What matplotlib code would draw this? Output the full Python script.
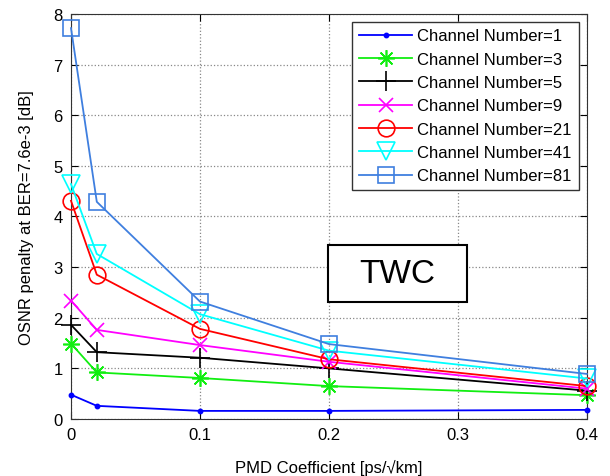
import matplotlib
matplotlib.use("Agg")
import matplotlib.pyplot as plt
from matplotlib.patches import Rectangle

plt.rcParams['font.family'] = ['Liberation Sans', 'DejaVu Sans']

# data
pmd = [0, 0.02, 0.1, 0.2, 0.4]
ch1 = [0.48, 0.26, 0.16, 0.16, 0.18]
ch3 = [1.49, 0.92, 0.81, 0.65, 0.47]
ch5 = [1.86, 1.32, 1.21, 1.0, 0.56]
ch9 = [2.34, 1.76, 1.46, 1.13, 0.6]
ch21 = [4.31, 2.85, 1.78, 1.18, 0.65]
ch41 = [4.64, 3.26, 2.07, 1.35, 0.8]
ch81 = [7.72, 4.29, 2.32, 1.48, 0.89]
labels = ['Channel Number=1', 'Channel Number=3', 'Channel Number=5',
          'Channel Number=9', 'Channel Number=21', 'Channel Number=41',
          'Channel Number=81']

series = [ch1, ch3, ch5, ch9, ch21, ch41, ch81]
colors = ['#0000ff', '#11ee11', '#000000', '#ff00ff', '#ff0000', '#00ffff', '#3f7fdf']
markers = ['.', (8, 2, 0), '+', 'x', 'o', 'v', 's']
msizes = [6, 12, 14, 10, 12, 13, 11]

fig = plt.figure(figsize=(6.1, 4.77), dpi=100)
ax = fig.add_axes([0.1164, 0.1195, 0.8456, 0.8491])

for y, c, m, ms, lab in zip(series, colors, markers, msizes, labels):
    ax.plot(pmd, y, color=c, marker=m, markersize=ms,
            markerfacecolor=c if m == '.' else 'none',
            markeredgewidth=1.2, linewidth=1.3, label=lab, clip_on=False, zorder=3)

ax.set_xlim(0, 0.4)
ax.set_ylim(0, 8)
ax.set_xticks([0, 0.1, 0.2, 0.3, 0.4])
ax.set_xticklabels(['0', '0.1', '0.2', '0.3', '0.4'])
ax.set_yticks(range(9))
ax.grid(True, linestyle=':', color='#888888', linewidth=0.9)
ax.tick_params(direction='in', top=True, right=True, labelsize=12, length=5, pad=6)
for sp in ax.spines.values():
    sp.set_color('#333333')

ax.set_xlabel('PMD Coefficient [ps/\u221akm]', fontsize=12, labelpad=12)
ax.set_ylabel('OSNR penalty at BER=7.6e-3 [dB]', fontsize=12, labelpad=14)

leg = ax.legend(loc='upper right', bbox_to_anchor=(0.984, 0.981), fontsize=12,
                fancybox=False, framealpha=1, edgecolor='#333333',
                handlelength=3.2, labelspacing=0.5, borderpad=0.4,
                handletextpad=0.3, borderaxespad=0)
leg.get_frame().set_linewidth(1.0)
leg.set_zorder(5)

# TWC label box
ax.add_patch(Rectangle((0.498, 0.289), 0.269, 0.141, transform=ax.transAxes,
                       facecolor='white', edgecolor='black', linewidth=1.5, zorder=4))
ax.text(0.632, 0.36, 'TWC', transform=ax.transAxes, fontsize=24,
        ha='center', va='center', zorder=5)

fig.savefig('out.png', dpi=100)
